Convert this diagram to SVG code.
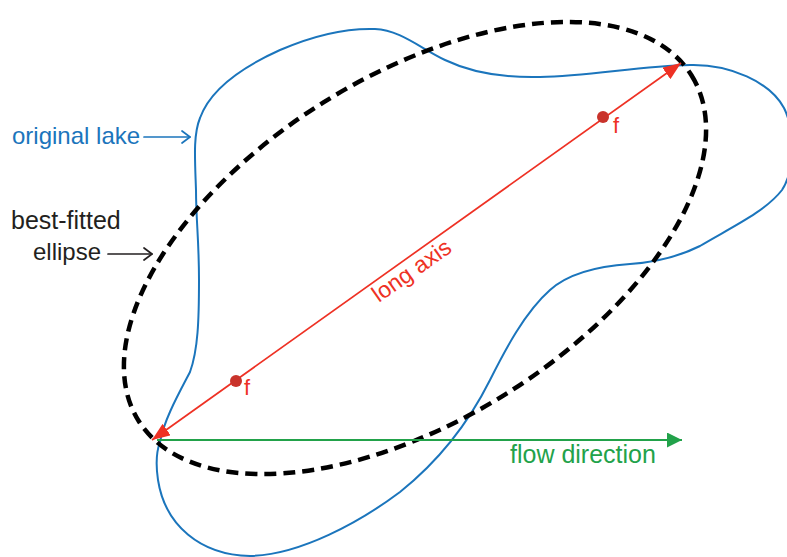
<svg xmlns="http://www.w3.org/2000/svg" width="787" height="557" viewBox="0 0 787 557">
<style>
  .lbl { font-family: "Liberation Sans", Arial, sans-serif; font-size: 24px; }
  .blue { fill: #1b75bc; }
  .black { fill: #231f20; }
  .red { fill: #ee3124; }
  .green { fill: #22a24a; }
  .lake { fill: none; stroke: #1b75bc; stroke-width: 2; }
  .fit { fill: none; stroke: #000; stroke-width: 4.5; stroke-dasharray: 12 7; }
  .axis { stroke: #ee3124; stroke-width: 1.7; fill: none; }
  .flow { stroke: #22a24a; stroke-width: 2; fill: none; }
  .ptr { fill: none; stroke-width: 1.7; stroke-linecap: round; stroke-linejoin: round; }
</style>
<defs>
  <marker id="redHead" viewBox="0 0 18 14" refX="18" refY="7" markerWidth="18" markerHeight="14" markerUnits="userSpaceOnUse" orient="auto-start-reverse">
    <path d="M0,0 L18,7 L0,14 z" fill="#ee3124"/>
  </marker>
  <marker id="greenHead" viewBox="0 0 15 15" refX="15" refY="7.5" markerWidth="15" markerHeight="15" markerUnits="userSpaceOnUse" orient="auto">
    <path d="M0,0 L15,7.5 L0,15 z" fill="#22a24a"/>
  </marker>
</defs>

<g id="original-lake">
  <path class="lake" d="M160,442 C164,420 178,395 190,372 C198,350 199,320 199,280 C199,240 196,220 196,190 C195,160 193,135 200,118 C210,90 240,68 280,50 C310,37 345,28 375,29 C400,30 420,48 445,60 C470,72 500,78 540,77 C590,76 640,66 690,65 C730,64 770,82 784,108 C795,130 795,170 782,190 C765,212 730,228 700,246 C680,256 660,262 630,264 C600,266 570,272 550,290 C525,312 505,350 490,380 C470,420 440,460 400,492 C360,522 300,555 250,556 C200,555 165,525 158,480 C155,460 157,450 160,442 Z"/>
</g>

<g id="best-fitted-ellipse">
  <ellipse class="fit" cx="415" cy="248" rx="326" ry="172" transform="rotate(-32 415 248)"/>
</g>

<g id="connectors">
  <line id="long-axis-line" class="axis" x1="152" y1="440" x2="681" y2="63" marker-start="url(#redHead)" marker-end="url(#redHead)"/>
  <line id="flow-line" class="flow" x1="157" y1="440" x2="682" y2="440" marker-end="url(#greenHead)"/>
  <g id="lake-pointer" class="ptr" stroke="#1b75bc">
    <line x1="144" y1="137" x2="190" y2="137"/>
    <polyline points="182,131 190,137 182,143"/>
  </g>
  <g id="ellipse-pointer" class="ptr" stroke="#231f20">
    <line x1="108" y1="254" x2="152" y2="254"/>
    <polyline points="144,248 152,254 144,260"/>
  </g>
</g>

<g id="focus-1">
  <circle cx="236" cy="381" r="6" fill="#c9332b"/>
  <text class="lbl red" x="244" y="395" style="font-size:22px">f</text>
</g>
<g id="focus-2">
  <circle cx="603" cy="117" r="6" fill="#c9332b"/>
  <text class="lbl red" x="613" y="133" style="font-size:22px">f</text>
</g>

<g id="long-axis-label">
  <text class="lbl red" x="416" y="277" text-anchor="middle" style="font-size:23px" transform="rotate(-35 416 277)">long axis</text>
</g>

<g id="flow-direction-label">
  <text class="lbl green" x="510" y="463" style="font-size:25px">flow direction</text>
</g>

<g id="original-lake-label">
  <text class="lbl blue" x="12" y="144">original lake</text>
</g>

<g id="ellipse-label">
  <text class="lbl black" x="11" y="229" style="font-size:25px">best-fitted</text>
  <text class="lbl black" x="33" y="260">ellipse</text>
</g>
</svg>
